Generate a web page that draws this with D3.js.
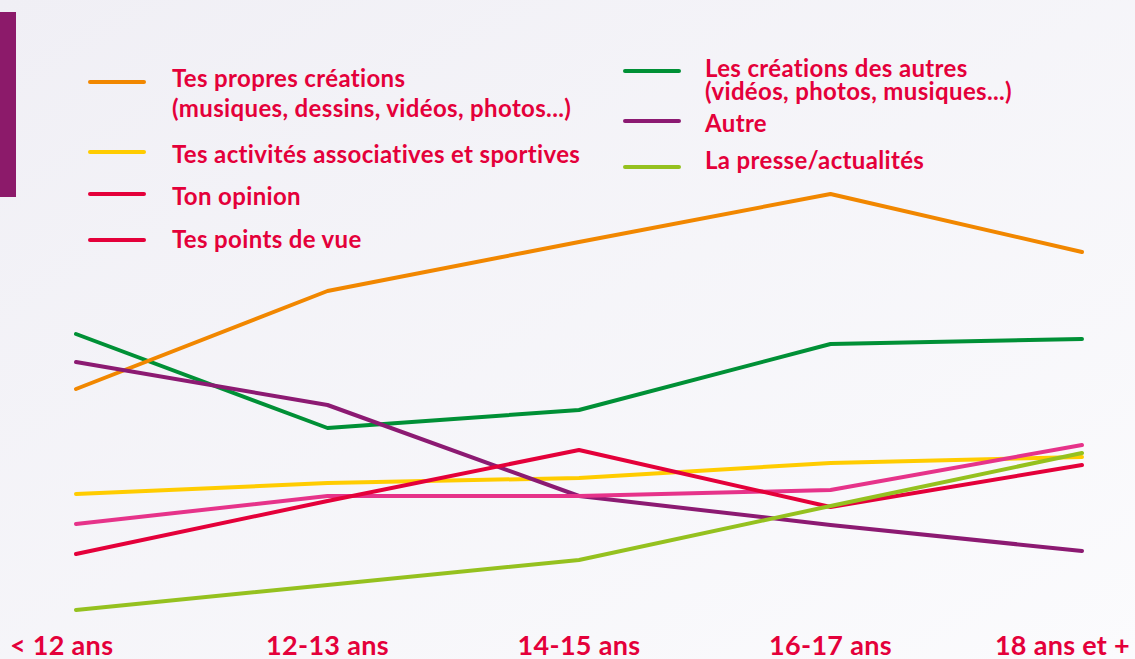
<!DOCTYPE html>
<html>
<head>
<meta charset="utf-8">
<script src="https://cdn.jsdelivr.net/npm/d3@7"></script>
<style>
  html, body { margin: 0; padding: 0; }
  body { width: 1135px; height: 659px; overflow: hidden; }
  svg text { font-family: Lato, "Open Sans", sans-serif; font-weight: 700; fill: #e4003a; }
</style>
</head>
<body>
<div id="container"></div>
<script>
const w = 1135,
    h = 659;

// tranches d'âge
const ages = ["< 12 ans", "12-13 ans", "14-15 ans", "16-17 ans", "18 ans et +"];

// valeurs (échelle 0-100)
const propresCreations = [52.2, 71.8, 81.6, 91.2, 79.6];
const creationsAutres = [63.2, 44.4, 48.0, 61.2, 62.2];
const autre = [57.6, 49.0, 30.8, 25.0, 19.8];
const activites = [31.2, 33.4, 34.4, 37.4, 38.6];
const pointsDeVue = [25.2, 30.8, 30.8, 32.0, 41.0];
const opinion = [19.2, 29.8, 40.0, 28.6, 37.0];
const presse = [8.0, 13.0, 18.0, 28.8, 39.4];

// ordre de dessin (le dernier passe au-dessus)
const series = [
    {name: "activites", values: activites, color: "#ffcc00"},
    {name: "creationsAutres", values: creationsAutres, color: "#009036"},
    {name: "propresCreations", values: propresCreations, color: "#f18700"},
    {name: "autre", values: autre, color: "#8c1a72"},
    {name: "pointsDeVue", values: pointsDeVue, color: "#e6338a"},
    {name: "opinion", values: opinion, color: "#e4003a"},
    {name: "presse", values: presse, color: "#95c11f"}
];

// légende : deux colonnes
const legendLeft = [
    {lines: ["Tes propres créations", "(musiques, dessins, vidéos, photos...)"], color: "#f18700"},
    {lines: ["Tes activités associatives et sportives"], color: "#ffcc00"},
    {lines: ["Ton opinion"], color: "#e4003a"},
    {lines: ["Tes points de vue"], color: "#e4003a"}
];
const legendRight = [
    {lines: ["Les créations des autres", "(vidéos, photos, musiques...)"], color: "#009036"},
    {lines: ["Autre"], color: "#8c1a72"},
    {lines: ["La presse/actualités"], color: "#95c11f"}
];

var svg = d3.select("div#container")
    .append("svg")
    .attr("width", w)
    .attr("height", h)
    .attr("viewBox", "0 0 " + w + " " + h);

var grad = svg.append("defs").append("linearGradient")
    .attr("id", "bg")
    .attr("x1", "0%").attr("y1", "0%")
    .attr("x2", "100%").attr("y2", "100%");
grad.append("stop").attr("offset", "0%").attr("stop-color", "#f0eff5");
grad.append("stop").attr("offset", "100%").attr("stop-color", "#fbfbfd");

svg.append("rect")
    .attr("width", w)
    .attr("height", h)
    .style("fill", "url(#bg)");

// barre violette à gauche
svg.append("rect")
    .attr("x", 0)
    .attr("y", 12)
    .attr("width", 16)
    .attr("height", 185)
    .style("fill", "#8c1a6a");

var x = d3.scalePoint().domain(ages).range([76, 1082]);
var y = d3.scaleLinear().domain([0, 100]).range([650, 150]);

var line = d3.line()
    .x((d, i) => x(ages[i]))
    .y(d => y(d));

svg.append("g")
    .selectAll("path")
    .data(series)
    .enter()
    .append("path")
    .attr("d", d => line(d.values))
    .attr("fill", "none")
    .attr("stroke", d => d.color)
    .attr("stroke-width", 4)
    .attr("stroke-linecap", "round")
    .attr("stroke-linejoin", "round");

// axe des x : libellés seulement, le premier et le dernier collés aux bords
var xAxis = svg.append("g").attr("class", "xlabels");
ages.forEach(function (a, i) {
    var last = ages.length - 1;
    xAxis.append("text")
        .attr("x", i == 0 ? 10 : (i == last ? w - 5 : x(a)))
        .attr("y", 655)
        .attr("text-anchor", i == 0 ? "start" : (i == last ? "end" : "middle"))
        .style("font-size", "27px")
        .style("letter-spacing", "0.3px")
        .text(a);
});

function addLegend(items, sx, tx, ys, lineGap) {
    var g = svg.append("g");
    items.forEach(function (it, i) {
        g.append("line")
            .attr("x1", sx)
            .attr("x2", sx + 54)
            .attr("y1", ys[i].swatch)
            .attr("y2", ys[i].swatch)
            .attr("stroke", it.color)
            .attr("stroke-width", 4)
            .attr("stroke-linecap", "round");
        var t = g.append("text")
            .style("font-size", "24px")
            .style("letter-spacing", "0.35px");
        it.lines.forEach(function (l, j) {
            t.append("tspan")
                .attr("x", tx)
                .attr("y", ys[i].text + j * lineGap)
                .text(l);
        });
    });
}

addLegend(legendLeft, 90, 172,
    [{swatch: 82, text: 87}, {swatch: 152, text: 163}, {swatch: 194, text: 205}, {swatch: 240, text: 248}], 30);
addLegend(legendRight, 625, 705,
    [{swatch: 71, text: 77}, {swatch: 121, text: 132}, {swatch: 167, text: 169}], 23);
</script>
</body>
</html>
